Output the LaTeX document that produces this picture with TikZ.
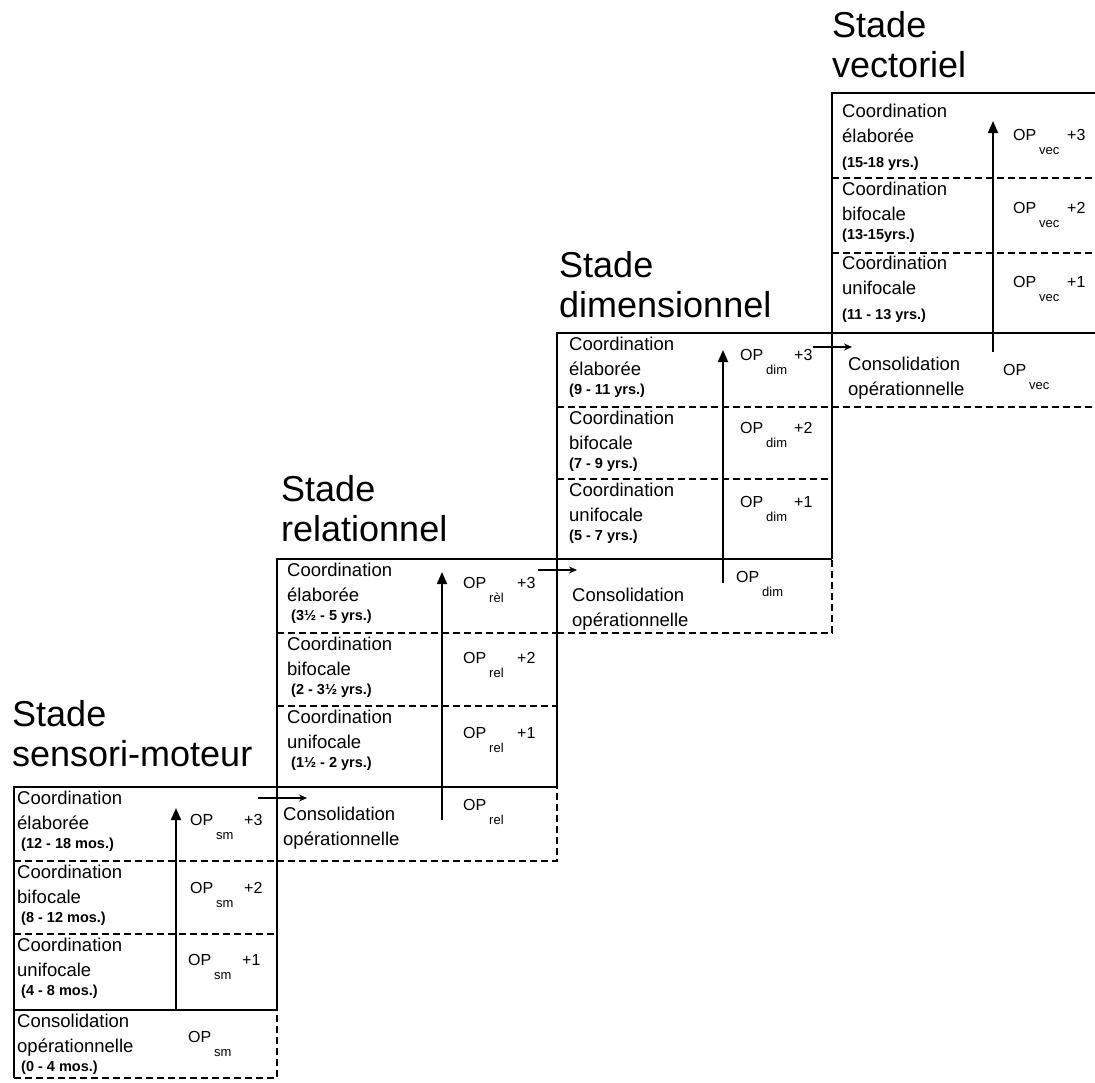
\documentclass[tikz,border=0pt]{standalone}
\usepackage{fontspec}
\setmainfont{Liberation Sans}
\usetikzlibrary{arrows.meta}

\newcommand{\opsubfont}{\fontsize{13}{13}\selectfont}
\newcommand{\opl}[2]{\makebox[26pt][l]{OP}\makebox[28pt][l]{\raisebox{-14pt}{\opsubfont #1}}#2}
\newcommand{\agefont}{\fontsize{14.5}{15}\selectfont\bfseries}

\begin{document}
\begin{tikzpicture}[x=1pt, y=-1pt,
    box/.style={line width=1.8pt},
    sep/.style={line width=1.8pt, dash pattern=on 7pt off 4pt},
    rise/.style={line width=1.8pt, -{Triangle[length=12pt,width=10pt]}},
    pass/.style={line width=1.5pt, -{Stealth[length=8pt,width=7pt]}},
    title/.style={anchor=south west, inner sep=0pt, align=left, font=\fontsize{36}{40}\selectfont},
    txt/.style={anchor=north west, inner sep=0pt, align=left, font=\fontsize{18.5}{25}\selectfont},
    op/.style={anchor=base west, inner sep=0pt, font=\fontsize{16}{16}\selectfont}]
  \useasboundingbox (0,0) rectangle (1095,1082);

  % sensori-moteur
  \draw[box] (277,1010) -- (277,787) -- (14,787) -- (14,1078);
  \draw[box] (14,1010) -- (277,1010);
  \draw[sep] (14,861) -- (277,861) (14,934) -- (277,934);
  \draw[sep] (14,1078) -- (277,1078) -- (277,1010);

  \node[title] (tsm) at (12,767) {Stade\\sensori-moteur};
  \node[txt] (sm3) at (17,791) {Coordination\\élaborée\\[-6pt]{\agefont\ (12 - 18 mos.)}};
  \node[txt] (sm2) at (17,865) {Coordination\\bifocale\\[-6pt]{\agefont\ (8 - 12 mos.)}};
  \node[txt] (sm1) at (17,938) {Coordination\\unifocale\\[-6pt]{\agefont\ (4 - 8 mos.)}};
  \node[txt] (sm0) at (17,1014) {Consolidation\\opérationnelle\\[-6pt]{\agefont\ (0 - 4 mos.)}};
  \node[op] (opsm3) at (190,825) {\opl{sm}{+3}};
  \node[op] (opsm2) at (190,893) {\opl{sm}{+2}};
  \node[op] (opsm1) at (188,965) {\opl{sm}{+1}};
  \node[op] (opsm0) at (188,1042) {\opl{sm}{}};
  \coordinate (smfoot) at (176,1010);
  \coordinate (smtip) at (176,808);
  \draw[rise] (smfoot) -- (smtip);

  % relationnel
  \draw[box] (557,787) -- (557,559) -- (277,559) -- (277,861);
  \draw[box] (277,787) -- (557,787);
  \draw[sep] (277,633) -- (557,633) (277,706) -- (557,706);
  \draw[sep] (277,861) -- (557,861) -- (557,787);

  \node[title] (trel) at (281,542) {Stade\\relationnel};
  \node[txt] (rel3) at (287,563) {Coordination\\élaborée\\[-6pt]{\agefont\ (3½ - 5 yrs.)}};
  \node[txt] (rel2) at (287,637) {Coordination\\bifocale\\[-6pt]{\agefont\ (2 - 3½ yrs.)}};
  \node[txt] (rel1) at (287,710) {Coordination\\unifocale\\[-6pt]{\agefont\ (1½ - 2 yrs.)}};
  \node[txt] (rel0) at (283,807) {Consolidation\\opérationnelle};
  \node[op] (oprel3) at (463,588) {\opl{rèl}{+3}};
  \node[op] (oprel2) at (463,663) {\opl{rel}{+2}};
  \node[op] (oprel1) at (463,738) {\opl{rel}{+1}};
  \node[op] (oprel0) at (463,810) {\opl{rel}{}};
  \coordinate (relfoot) at (442,820);
  \coordinate (reltip) at (442,572);
  \draw[rise] (relfoot) -- (reltip);

  % dimensionnel
  \draw[box] (832,559) -- (832,333) -- (557,333) -- (557,633);
  \draw[box] (557,559) -- (832,559);
  \draw[sep] (557,407) -- (832,407) (557,479) -- (832,479);
  \draw[sep] (557,633) -- (832,633) -- (832,559);

  \node[title] (tdim) at (559,318) {Stade\\dimensionnel};
  \node[txt] (dim3) at (569,337) {Coordination\\élaborée\\[-6pt]{\agefont (9 - 11 yrs.)}};
  \node[txt] (dim2) at (569,411) {Coordination\\bifocale\\[-6pt]{\agefont (7 - 9 yrs.)}};
  \node[txt] (dim1) at (569,483) {Coordination\\unifocale\\[-6pt]{\agefont (5 - 7 yrs.)}};
  \node[txt] (dim0) at (572,588) {Consolidation\\opérationnelle};
  \node[op] (opdim3) at (740,360) {\opl{dim}{+3}};
  \node[op] (opdim2) at (740,433) {\opl{dim}{+2}};
  \node[op] (opdim1) at (740,507) {\opl{dim}{+1}};
  \node[op] (opdim0) at (736,582) {\opl{dim}{}};
  \coordinate (dimfoot) at (723,583);
  \coordinate (dimtip) at (723,350);
  \draw[rise] (dimfoot) -- (dimtip);

  % vectoriel
  \draw[box] (1095,93) -- (832,93) -- (832,407);
  \draw[box] (832,333) -- (1095,333);
  \draw[sep] (832,178) -- (1095,178) (832,253) -- (1095,253);
  \draw[sep] (832,407) -- (1095,407);

  \node[title] (tvec) at (832,78) {Stade\\vectoriel};
  \node[txt] (vec3) at (842,104) {Coordination\\élaborée\\{\agefont (15-18 yrs.)}};
  \node[txt] (vec2) at (842,182) {Coordination\\bifocale\\[-6pt]{\agefont (13-15yrs.)}};
  \node[txt] (vec1) at (842,256) {Coordination\\unifocale\\{\agefont (11 - 13 yrs.)}};
  \node[txt] (vec0) at (848,357) {Consolidation\\opérationnelle};
  \node[op] (opvec3) at (1013,140) {\opl{vec}{+3}};
  \node[op] (opvec2) at (1013,213) {\opl{vec}{+2}};
  \node[op] (opvec1) at (1013,287) {\opl{vec}{+1}};
  \node[op] (opvec0) at (1003,375) {\opl{vec}{}};
  \coordinate (vecfoot) at (993,352);
  \coordinate (vectip) at (993,121);
  \draw[rise] (vecfoot) -- (vectip);

  % passages
  \coordinate (smout) at (258,798);
  \coordinate (relin) at (307,798);
  \draw[pass] (smout) -- (relin);
  \coordinate (relout) at (538,570);
  \coordinate (dimin) at (577,570);
  \draw[pass] (relout) -- (dimin);
  \coordinate (dimout) at (813,347);
  \coordinate (vecin) at (852,347);
  \draw[pass] (dimout) -- (vecin);
\end{tikzpicture}
\end{document}
